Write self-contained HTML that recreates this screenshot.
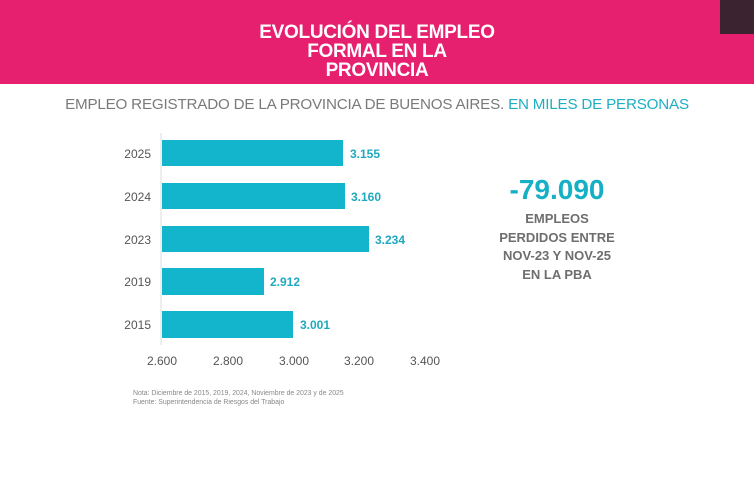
<!DOCTYPE html>
<html><head><meta charset="utf-8"><style>
body{margin:0;width:754px;height:490px;background:#fff;position:relative;overflow:hidden;font-family:"Liberation Sans",sans-serif}
.band{position:absolute;left:0;top:0;width:754px;height:84px;background:#e6206f}
.sq{position:absolute;left:720px;top:0;width:34px;height:34px;background:#3b2430}
.title{position:absolute;left:0;width:754px;top:23px;text-align:center;color:#fff;font-weight:bold;font-size:19px;line-height:19px;letter-spacing:-0.3px}
.sub{position:absolute;left:0;width:754px;top:96px;text-align:center;color:#7a7a7a;font-size:15.2px;letter-spacing:-0.2px}
.sub span{color:#1eaec4}
.big{position:absolute;left:457px;width:200px;top:174px;text-align:center;color:#15b0c6;font-weight:bold;font-size:28px}
.txt{position:absolute;left:457px;width:200px;top:210px;text-align:center;color:#6e6e6e;font-weight:bold;font-size:13px;line-height:18.5px}
</style></head><body>
<div class="band"></div><div class="sq"></div>
<div class="title">EVOLUCIÓN DEL EMPLEO<br>FORMAL EN LA<br>PROVINCIA</div>
<div class="sub">EMPLEO REGISTRADO DE LA PROVINCIA DE BUENOS AIRES. <span>EN MILES DE PERSONAS</span></div>
<svg style="position:absolute;left:0;top:0" width="754" height="490" font-family="Liberation Sans, sans-serif">
<line x1="161" y1="133" x2="161" y2="345" stroke="#ddd" stroke-width="1"/>
<g fill="#13b5cc">
<rect x="162" y="140" width="181" height="26"/>
<rect x="162" y="183" width="183" height="26"/>
<rect x="162" y="226" width="207" height="26"/>
<rect x="162" y="268" width="102" height="27"/>
<rect x="162" y="311" width="131" height="27"/>
</g>
<g fill="#1fa9bf" font-weight="bold" font-size="12">
<text x="350" y="158">3.155</text><text x="351" y="201">3.160</text><text x="375" y="244">3.234</text><text x="270" y="286">2.912</text><text x="300" y="329">3.001</text>
</g>
<g fill="#555" font-size="12" text-anchor="end">
<text x="151" y="158">2025</text><text x="151" y="201">2024</text><text x="151" y="244">2023</text><text x="151" y="286">2019</text><text x="151" y="329">2015</text>
</g>
<g fill="#555" font-size="12" text-anchor="middle">
<text x="162" y="365">2.600</text><text x="228" y="365">2.800</text><text x="294" y="365">3.000</text><text x="359" y="365">3.200</text><text x="425" y="365">3.400</text>
</g>
<g fill="#888" font-size="6.9">
<text x="133" y="395">Nota: Diciembre de 2015, 2019, 2024, Noviembre de 2023  y de 2025</text>
<text x="133" y="404">Fuente: Superintendencia de Riesgos del Trabajo</text>
</g>
</svg>
<div class="big">-79.090</div>
<div class="txt">EMPLEOS<br>PERDIDOS ENTRE<br>NOV-23 Y NOV-25<br>EN LA PBA</div>
</body></html>
